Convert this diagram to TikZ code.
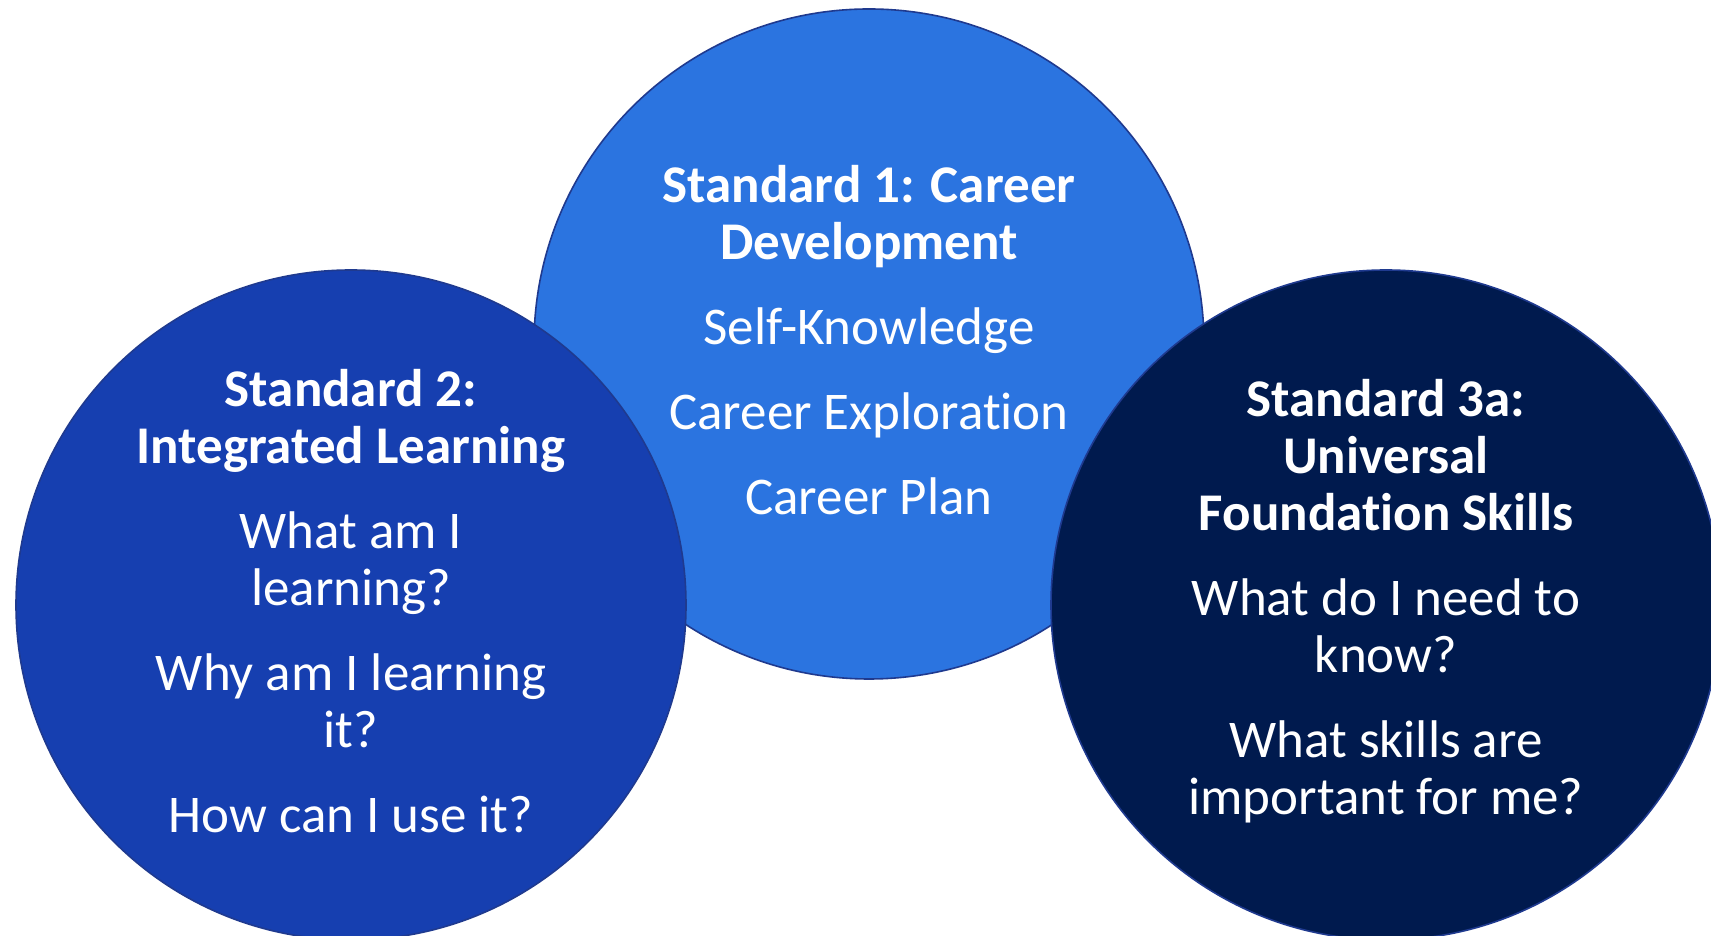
\documentclass[tikz,border=0pt]{standalone}
\usepackage{fontspec}
\setmainfont{Carlito}[Ligatures={NoCommon,NoRequired,NoContextual}]
\usetikzlibrary{positioning}
\tikzset{
	>=latex,
}
\definecolor{stdone}{HTML}{2B74E0}
\definecolor{stdtwo}{HTML}{163FB0}
\definecolor{stdthree}{HTML}{001A4E}
\definecolor{rimblue}{HTML}{1F3A8F}

\begin{document}
\begin{tikzpicture}[
		x=1pt, y=1pt,
		standard/.style={
			circle, draw=rimblue, line width=1.6pt,
			fill=#1, minimum size=670pt, inner sep=0pt,
		},
		questions/.style={
			text=white, align=center, inner sep=0pt, yshift=4pt,
			font=\fontsize{53}{57}\selectfont,
		},
	]
	\def\gap{\\[28pt]}
	\def\ti{t\kern0pt i}
	\clip (0,0) rectangle (1711,936);
	\fill[white] (0,0) rectangle (1711,936);
	% back circle first, the other two lie over it
	\node(career)[standard=stdone] at (869,592) {};
	\node(learning)[standard=stdtwo] at (351,331) {};
	\node(skills)[standard=stdthree] at (1386,331) {};
	\node(careertext)[questions] at (career) {%
		\textbf{Standard 1: Career}\\
		\textbf{Development}\gap
		Self-Knowledge\gap
		Career Explora\ti on\gap
		Career Plan};
	\node(learningtext)[questions] at (learning) {%
		\textbf{Standard 2:}\\
		\textbf{Integrated Learning}\gap
		What am I\\
		learning?\gap
		Why am I learning\\
		it?\gap
		How can I use it?};
	\node(skillstext)[questions] at (skills) {%
		\textbf{Standard 3a:}\\
		\textbf{Universal}\\
		\textbf{Founda\ti on Skills}\gap
		What do I need to\\
		know?\gap
		What skills are\\
		important for me?};
\end{tikzpicture}
\end{document}
